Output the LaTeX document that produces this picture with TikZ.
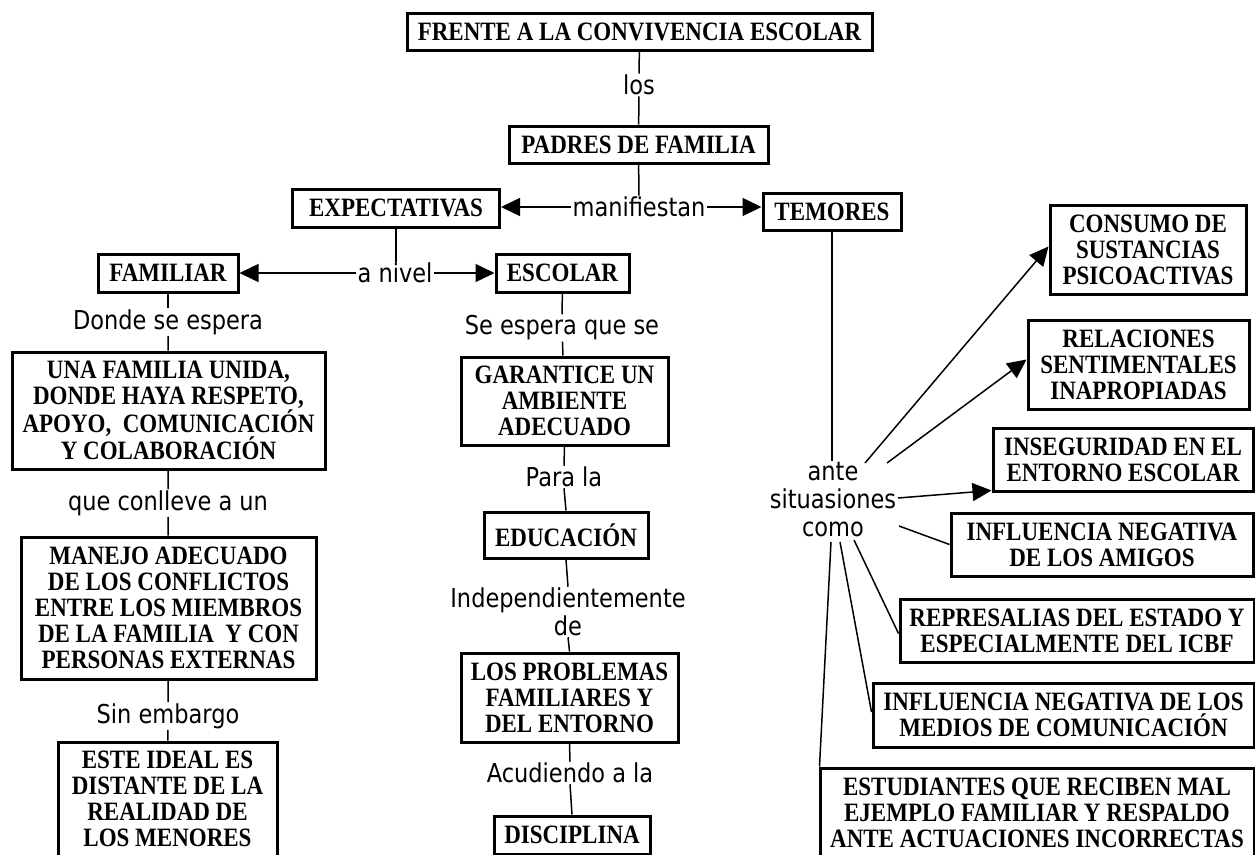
\documentclass[tikz,border=0pt]{standalone}
\usepackage{fontspec}
\setmainfont{Liberation Serif}
\newfontfamily\boxfont[FakeStretch=0.868]{Liberation Serif}
\newfontfamily\lblfont[FakeStretch=0.865]{DejaVu Sans}
\usetikzlibrary{arrows.meta}
\tikzset{
  cbox/.style={draw, line width=3pt, inner sep=0pt, align=center,
    font=\boxfont\bfseries\fontsize{26.5}{26}\selectfont},
  lbl/.style={inner sep=1pt, align=center, font=\lblfont\fontsize{26}{28}\selectfont},
  conn/.style={line width=1.5pt},
  arr/.style={conn, -{Triangle[length=19pt,width=18pt]}},
}
\begin{document}
\begin{tikzpicture}[x=1pt,y=-1pt]
\fill[white] (0,0) rectangle (1255,854);
\useasboundingbox (0,0) rectangle (1255,854);

% boxes
\node[cbox, minimum width=465pt, minimum height=37pt] (frente) at (639.5,31.5) {FRENTE A LA CONVIVENCIA ESCOLAR};
\node[cbox, minimum width=259pt, minimum height=37pt] (padres) at (638.5,144.5) {PADRES DE FAMILIA};
\node[cbox, minimum width=207pt, minimum height=38pt] (expect) at (396,208) {EXPECTATIVAS};
\node[cbox, minimum width=138pt, minimum height=37pt] (temores) at (832,211.5) {TEMORES};
\node[cbox, minimum width=140pt, minimum height=38pt] (familiar) at (168,273) {FAMILIAR};
\node[cbox, minimum width=133pt, minimum height=38pt] (escolar) at (562.5,273) {ESCOLAR};
\node[cbox, minimum width=313pt, minimum height=117pt] (unafam) at (168.5,410.5) {UNA FAMILIA UNIDA,\\DONDE HAYA RESPETO,\\APOYO,\ \ COMUNICACIÓN\\Y COLABORACIÓN};
\node[cbox, minimum width=295pt, minimum height=142pt] (manejo) at (168.5,608) {MANEJO ADECUADO\\DE LOS CONFLICTOS\\ENTRE LOS MIEMBROS\\DE LA FAMILIA\ \ Y CON\\PERSONAS EXTERNAS};
\node[cbox, minimum width=219pt, minimum height=114pt] (este) at (167.5,799) {ESTE IDEAL ES\\DISTANTE DE LA\\REALIDAD DE\\LOS MENORES};
\node[cbox, minimum width=207pt, minimum height=88pt] (garant) at (564.5,401) {GARANTICE UN\\AMBIENTE\\ADECUADO};
\node[cbox, minimum width=164pt, minimum height=46pt] (educ) at (566,535) {EDUCACIÓN};
\node[cbox, minimum width=217pt, minimum height=89pt] (problemas) at (569.5,697.5) {LOS PROBLEMAS\\FAMILIARES Y\\DEL ENTORNO};
\node[cbox, minimum width=156pt, minimum height=38pt] (disc) at (572,835) {DISCIPLINA};
\node[cbox, minimum width=196pt, minimum height=89pt] (consumo) at (1148,249.5) {CONSUMO DE\\SUSTANCIAS\\PSICOACTIVAS};
\node[cbox, minimum width=221pt, minimum height=89pt] (relac) at (1138.5,364.5) {RELACIONES\\SENTIMENTALES\\INAPROPIADAS};
\node[cbox, minimum width=260pt, minimum height=63pt] (insegur) at (1123,459.5) {INSEGURIDAD EN EL\\ENTORNO ESCOLAR};
\node[cbox, minimum width=302pt, minimum height=63pt] (amigos) at (1102,544.5) {INFLUENCIA NEGATIVA\\DE LOS AMIGOS};
\node[cbox, minimum width=354pt, minimum height=63pt] (repres) at (1077,630.5) {REPRESALIAS DEL ESTADO Y\\ESPECIALMENTE DEL ICBF};
\node[cbox, minimum width=381pt, minimum height=64pt] (medios) at (1063.5,715) {INFLUENCIA NEGATIVA DE LOS\\MEDIOS DE COMUNICACIÓN};
\node[cbox, minimum width=434pt, minimum height=89pt] (estud) at (1037,812.5) {ESTUDIANTES QUE RECIBEN MAL\\EJEMPLO FAMILIAR Y RESPALDO\\ANTE ACTUACIONES INCORRECTAS};

% labels
\node[lbl] (los) at (639,85) {los};
\node[lbl] (manif) at (639,207) {manifiestan};
\node[lbl] (anivel) at (395,273) {a nivel};
\node[lbl] (donde) at (168,322) {Donde se espera};
\node[lbl] (conlleve) at (168,503) {que conlleve a un};
\node[lbl] (sinemb) at (168,716) {Sin embargo};
\node[lbl] (seesp) at (562,328) {Se espera que se};
\node[lbl] (parala) at (564,477) {Para la};
\node[lbl] (indep) at (568,612) {Independientemente\\de};
\node[lbl] (acud) at (570,773) {Acudiendo a la};
\node[lbl] (ante) at (833,500) {ante\\situasiones\\como};

% fan start points
\coordinate (f1) at (865,463);
\coordinate (f2) at (887,463);
\coordinate (f3) at (898,498);
\coordinate (f4) at (899,526);
\coordinate (f5) at (854,540);
\coordinate (f6) at (840,542);
\coordinate (f7) at (831,542);

% connectors
\draw[conn] (frente) -- (los);
\draw[conn] (los) -- (padres);
\draw[conn] (padres) -- (manif);
\draw[arr] (manif.west) -- (manif.west -| expect.east);
\draw[arr] (manif.east) -- (manif.east -| temores.west);
\draw[conn] (expect.south) -- (expect.south |- anivel.north);
\draw[arr] (anivel.west) -- (familiar.east);
\draw[arr] (anivel.east) -- (escolar.west);

\draw[conn] (familiar) -- (donde);
\draw[conn] (donde) -- (unafam);
\draw[conn] (unafam) -- (conlleve);
\draw[conn] (conlleve) -- (manejo);
\draw[conn] (manejo) -- (sinemb);
\draw[conn] (sinemb) -- (este);

\draw[conn] (escolar) -- (seesp);
\draw[conn] (seesp) -- (garant);
\draw[conn] (garant.south) -- (parala.north);
\draw[conn] (parala.south) -- (educ.north);
\draw[conn] (educ.south) -- (indep.north);
\draw[conn] (indep.south) -- (problemas.north);
\draw[conn] (problemas.south) -- (acud.north);
\draw[conn] (acud.south) -- (disc.north);

\draw[conn] (temores.south) -- (temores.south |- ante.north);
\draw[arr] (f1) -- ([yshift=3pt]consumo.west);
\draw[arr] (f2) -- ([yshift=5pt]relac.west);
\draw[arr] (f3) -- ([yshift=2pt]insegur.south west);
\draw[conn] (f4) -- (amigos.west);
\draw[conn] (f5) -- ([yshift=-3pt]repres.west);
\draw[conn] (f6) -- ([yshift=3pt]medios.west);
\draw[conn] (f7) -- ([xshift=1pt]estud.north west);
\end{tikzpicture}
\end{document}
